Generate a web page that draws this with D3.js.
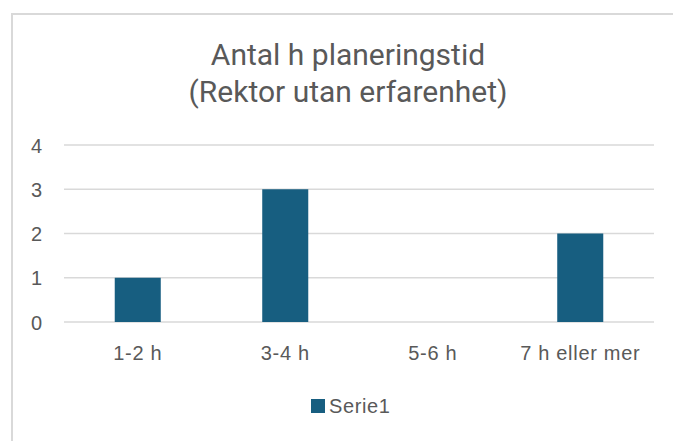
<!DOCTYPE html>
<html>
<head>
<meta charset="utf-8">
<script src="https://cdn.jsdelivr.net/npm/d3@7"></script>
<style>
  body { margin: 0; background: #fff; }
  svg { display: block; }
</style>
</head>
<body>
<div id="chart"></div>
<script>
const titleLines = ["Antal h planeringstid", "(Rektor utan erfarenhet)"]
const categories = ["1-2 h", "3-4 h", "5-6 h", "7 h eller mer"]
const values = [1, 3, 0, 2]
const yTicks = [0, 1, 2, 3, 4]
const seriesName = "Serie1"

const W = 673, H = 441
const plot = {left: 64, right: 654, top: 145, bottom: 322}
const barColor = "#175e80"
  , textColor = "#595959"
  , gridColor = "#d9d9d9"
  , labelFont = "'Liberation Sans', Arial, sans-serif";

const svg = d3.select("#chart").append("svg")
  .attr("width", W)
  .attr("height", H)

// chart area border (only top and left are inside the frame)
svg.append("rect")
  .attr("x", 12)
  .attr("y", 14)
  .attr("width", W + 10)
  .attr("height", H + 10)
  .style("fill", "#fff")
  .style("stroke", gridColor)
  .style("stroke-width", 2)

svg.selectAll(".title")
  .data(titleLines)
  .enter().append("text")
  .attr("class", "title")
  .attr("x", 348)
  .attr("y", function(d, i) { return 65 + i * 37; })
  .attr("text-anchor", "middle")
  .style("font-family", "Roboto, 'Liberation Sans', sans-serif")
  .style("font-size", "30px")
  .style("fill", textColor)
  .text(function(d) { return d; })

var x = d3.scaleBand()
  .domain(categories)
  .range([plot.left, plot.right])
  .padding(0)

var y = d3.scaleLinear()
  .domain([0, 4])
  .range([plot.bottom, plot.top])

// gridlines
svg.append("g")
  .selectAll("line")
  .data(yTicks)
  .enter().append("line")
  .attr("x1", plot.left)
  .attr("x2", plot.right)
  .attr("y1", function(d) { return y(d); })
  .attr("y2", function(d) { return y(d); })
  .style("stroke", gridColor)
  .style("stroke-width", 1.5)

// y axis labels
var yAxis = svg.append("g")
  .attr("transform", `translate(${plot.left - 22},0)`)
  .call(d3.axisLeft(y).tickValues(yTicks).tickFormat(d3.format("d")).tickSize(0).tickPadding(0))
yAxis.select(".domain").remove()
yAxis.selectAll("text")
  .attr("dy", "0.36em")
  .style("font-family", labelFont)
  .style("font-size", "20px")
  .style("fill", textColor)

// x axis labels
var xAxis = svg.append("g")
  .attr("transform", `translate(0,${plot.bottom + 24})`)
  .call(d3.axisBottom(x).tickSize(0).tickPadding(0))
xAxis.select(".domain").remove()
xAxis.selectAll("text")
  .style("font-family", labelFont)
  .style("font-size", "20px")
  .style("letter-spacing", "0.7px")
  .style("fill", textColor)

// bars
const barWidth = x.bandwidth() * 0.312
svg.append("g")
  .selectAll("rect")
  .data(values)
  .enter().append("rect")
  .attr("x", function(d, i) { return x(categories[i]) + x.bandwidth() / 2 - barWidth / 2; })
  .attr("y", function(d) { return y(d); })
  .attr("width", barWidth)
  .attr("height", function(d) { return y(0) - y(d); })
  .style("fill", barColor)

// legend
var legend = svg.append("g")
  .attr("transform", "translate(311,399)")
legend.append("rect")
  .attr("width", 14)
  .attr("height", 14)
  .style("fill", barColor)
legend.append("text")
  .attr("x", 18)
  .attr("y", 14)
  .style("font-family", labelFont)
  .style("font-size", "20px")
  .style("letter-spacing", "0.6px")
  .style("fill", textColor)
  .text(seriesName)
</script>
</body>
</html>
